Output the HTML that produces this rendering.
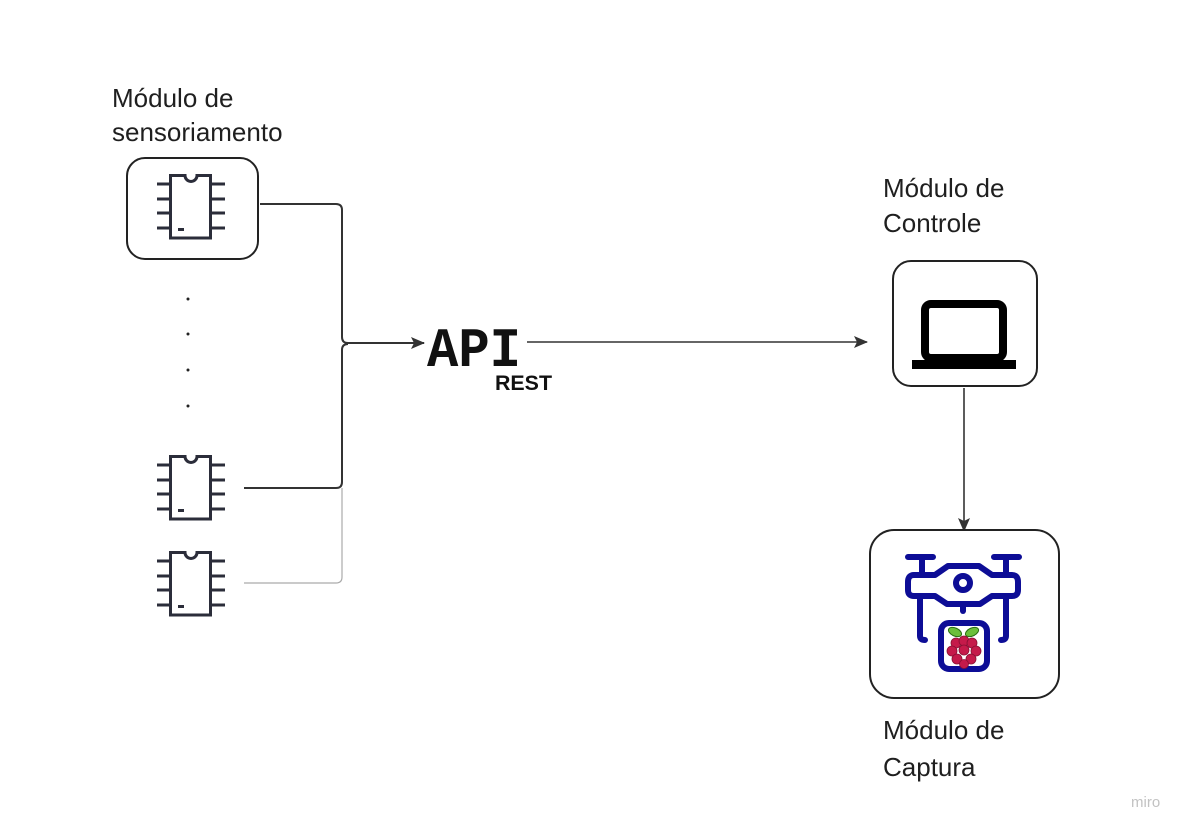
<!DOCTYPE html>
<html><head><meta charset="utf-8"><style>
html,body{margin:0;padding:0;background:#fff;}
svg{display:block}
.t{font-family:"Liberation Sans",sans-serif;font-size:26px;fill:#1f1f1f}
</style></head><body>
<svg width="1197" height="835" viewBox="0 0 1197 835" xmlns="http://www.w3.org/2000/svg">
<defs>
<g id="chip" fill="none" stroke="#2b2d3a" stroke-width="3">
<path d="M13.5 1.5 H28 A6 6 0 0 0 40 1.5 H53.5 V64 H13.5 Z"/>
<path d="M0 10H13M0 25H13M0 39H13M0 54H13M54 10H68M54 25H68M54 39H68M54 54H68"/>
<rect x="21" y="54" width="6" height="3" fill="#2b2d3a" stroke="none"/>
</g>
<marker id="ah" markerWidth="14" markerHeight="14" refX="13" refY="7" orient="auto" markerUnits="userSpaceOnUse"><path d="M0 1L14 7L0 13L3 7Z" fill="#333"/></marker>
</defs>

<text class="t" x="112" y="107">Módulo de</text>
<text class="t" x="112" y="141">sensoriamento</text>
<text class="t" x="883" y="197">Módulo de</text>
<text class="t" x="883" y="232">Controle</text>
<text class="t" x="883" y="739">Módulo de</text>
<text class="t" x="883" y="776">Captura</text>
<text x="1131" y="807" font-family="Liberation Sans,sans-serif" font-size="15" fill="#c2c2c2">miro</text>

<rect x="127" y="158" width="131" height="101" rx="18" fill="#fff" stroke="#222" stroke-width="2"/>
<use href="#chip" x="157" y="174"/>
<use href="#chip" x="157" y="455"/>
<use href="#chip" x="157" y="551"/>

<g fill="#222"><circle cx="188" cy="299" r="1.5"/><circle cx="188" cy="334" r="1.5"/><circle cx="188" cy="370" r="1.5"/><circle cx="188" cy="406" r="1.5"/></g>

<path d="M244 583 H336 Q342 583 342 577 V488" fill="none" stroke="#aaa" stroke-width="1.2"/>
<path d="M260 204 H336 Q342 204 342 210 V337 Q342 343 348 343 H424" fill="none" stroke="#333" stroke-width="2" marker-end="url(#ah)"/>
<path d="M244 488 H336 Q342 488 342 482 V350 Q342 344 348 344" fill="none" stroke="#333" stroke-width="2"/>

<text x="427" y="366" font-family="Liberation Mono,monospace" font-size="56" font-weight="bold" fill="#111" textLength="94" lengthAdjust="spacingAndGlyphs">API</text>
<text x="495" y="390" font-family="Liberation Sans,sans-serif" font-size="21" font-weight="bold" fill="#111" textLength="57" lengthAdjust="spacingAndGlyphs">REST</text>

<path d="M527 342 H867" stroke="#333" stroke-width="1.6" marker-end="url(#ah)"/>

<rect x="893" y="261" width="144" height="125" rx="18" fill="#fff" stroke="#222" stroke-width="2"/>
<rect x="925" y="304" width="78" height="54" rx="6" fill="none" stroke="#000" stroke-width="8"/>
<rect x="912" y="360" width="104" height="9" fill="#000"/>

<path d="M964 388 V531" stroke="#333" stroke-width="1.6" marker-end="url(#ah)"/>

<rect x="870" y="530" width="189" height="168" rx="24" fill="#fff" stroke="#222" stroke-width="2"/>
<g fill="none" stroke="#0d0d96" stroke-width="6" stroke-linecap="round" stroke-linejoin="round">
<path d="M908 557H933M994 557H1019M922 557V574M1006 557V574"/>
<path d="M914 575 H935 L948 566 H979 L992 575 H1012 Q1018 575 1018 582 V590 Q1018 596 1012 596 H992 L980 604 H947 L935 596 H914 Q908 596 908 590 V582 Q908 575 914 575Z"/>
<circle cx="963" cy="583" r="7"/>
<path d="M963 605V611"/>
<path d="M920 598 V636 Q920 640 925 640"/>
<path d="M1006 598 V636 Q1006 640 1001 640"/>
<rect x="941" y="623" width="46" height="46" rx="8"/>
</g>
<g>
<ellipse cx="955" cy="632" rx="7" ry="4" fill="#6bbf3a" stroke="#2a6e12" stroke-width="1" transform="rotate(25 955 632)"/>
<ellipse cx="972" cy="632" rx="7" ry="4" fill="#6bbf3a" stroke="#2a6e12" stroke-width="1" transform="rotate(-25 972 632)"/>
<g fill="#c51a4a" stroke="#8a0f33" stroke-width="0.8">
<circle cx="956" cy="643" r="5"/><circle cx="964" cy="641" r="5"/><circle cx="972" cy="643" r="5"/>
<circle cx="952" cy="651" r="5"/><circle cx="964" cy="650" r="5"/><circle cx="976" cy="651" r="5"/>
<circle cx="957" cy="659" r="5"/><circle cx="971" cy="659" r="5"/><circle cx="964" cy="664" r="4.5"/>
</g>
</g>
</svg>
</body></html>
